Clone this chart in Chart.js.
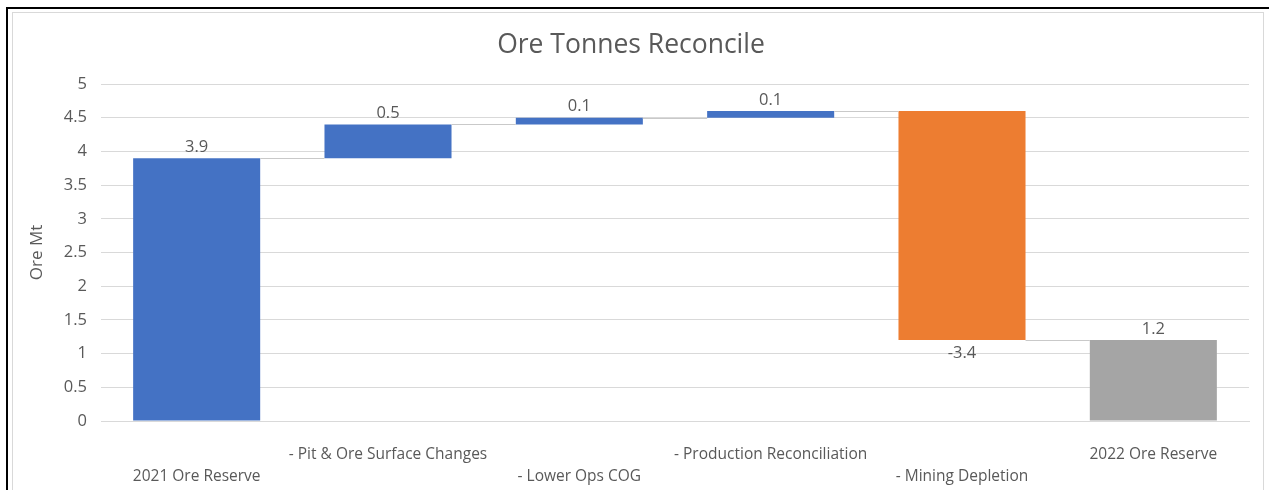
<!DOCTYPE html>
<html>
<head>
<meta charset="utf-8">
<script src="https://cdn.jsdelivr.net/npm/chart.js@4.4.1/dist/chart.umd.min.js"></script>
<style>
    body { margin: 0; background: #fff; width: 1269px; height: 490px; overflow: hidden; position: relative; }
    #frame { position: absolute; left: 6px; top: 7px; width: 1400px; height: 600px; border: 2px solid #000; }
    #inner { position: absolute; left: 12px; top: 12px; width: 1250px; height: 600px; border: 1px solid #d9d9d9; }
    #myChart { position: absolute; left: 13px; top: 13px; }
</style>
</head>
<body>
<div id="frame"></div>
<div id="inner"></div>
<canvas id="myChart" width="1250" height="477"></canvas>
<script>
// данные водопада
const labels = ['2021 Ore Reserve', '- Pit & Ore Surface Changes', '- Lower Ops COG',
    '- Production Reconciliation', '- Mining Depletion', '2022 Ore Reserve'];
const steps = [3.9, 0.5, 0.1, 0.1, -3.4, 1.2];
const isTotal = [true, false, false, false, false, true];
const stepText = ['3.9', '0.5', '0.1', '0.1', '-3.4', '1.2'];
const yTicks = [0, 0.5, 1, 1.5, 2, 2.5, 3, 3.5, 4, 4.5, 5];

const BLUE = '#4472C4', ORANGE = '#ED7D31', GREY = '#A5A5A5';
const FONT = "'Open Sans', sans-serif";

// плавающие столбики [низ, верх]
let ranges = [];
let level = 0;
steps.forEach(function (v, i) {
    if (isTotal[i]) {
        ranges.push([0, v]);
        level = v;
    } else {
        let next = Math.round((level + v) * 10) / 10;
        ranges.push([Math.min(level, next), Math.max(level, next)]);
        level = next;
    }
});
let colors = steps.map(function (v, i) {
    if (i === steps.length - 1) return GREY;
    return v < 0 ? ORANGE : BLUE;
});

// подписи в две строки, как у Excel
let tickLabels = labels.map(function (l, i) {
    return i % 2 === 1 ? [l, ''] : ['', l];
});

const waterfallExtras = {
    id: 'waterfallExtras',
    afterDatasetsDraw(chart) {
        const c = chart.ctx;
        const meta = chart.getDatasetMeta(0);
        const y = chart.scales.y;
        c.save();
        // соединительные линии
        c.strokeStyle = '#c9c9c9';
        c.lineWidth = 1;
        for (let i = 0; i < meta.data.length - 1; i++) {
            const a = meta.data[i], b = meta.data[i + 1];
            const end = steps[i] < 0 ? ranges[i][0] : ranges[i][1];
            const py = Math.round(y.getPixelForValue(end)) + 0.5;
            c.beginPath();
            c.moveTo(a.x + a.width / 2, py);
            c.lineTo(b.x - b.width / 2, py);
            c.stroke();
        }
        // значения
        c.fillStyle = '#595959';
        c.font = '16.5px ' + FONT;
        c.textAlign = 'center';
        c.textBaseline = 'middle';
        meta.data.forEach(function (bar, i) {
            if (steps[i] < 0) {
                c.fillText(stepText[i], bar.x, y.getPixelForValue(ranges[i][0]) + 13);
            } else {
                c.fillText(stepText[i], bar.x, y.getPixelForValue(ranges[i][1]) - 11);
            }
        });
        c.restore();
    }
};

const ctx = document.getElementById('myChart');
let chart = new Chart(ctx, {
    type: 'bar',
    data: {
        labels: tickLabels,
        datasets: [{
            data: ranges,
            backgroundColor: colors,
            borderWidth: 0,
            categoryPercentage: 1,
            barPercentage: 0.664
        }]
    },
    plugins: [waterfallExtras],
    options: {
        responsive: false,
        animation: false,
        layout: { padding: { top: 0, right: 14, bottom: 0, left: 0 } },
        plugins: {
            legend: { display: false },
            tooltip: { enabled: false },
            title: {
                display: true,
                text: 'Ore Tonnes Reconcile',
                color: '#595959',
                font: { family: FONT, size: 26.5, weight: 'normal' },
                padding: { top: 17, bottom: 22.2 }
            }
        },
        scales: {
            x: {
                grid: { display: false },
                border: { display: true, color: '#d9d9d9' },
                ticks: {
                    color: '#595959',
                    font: { family: FONT, size: 15.5, lineHeight: 22 / 15.5 },
                    padding: 15,
                    maxRotation: 0,
                    autoSkip: false
                },
                afterFit: function (scale) { scale.height = 69; }
            },
            y: {
                min: 0,
                max: 5,
                afterBuildTicks: function (scale) {
                    scale.ticks = yTicks.map(function (v) { return { value: v }; });
                },
                grid: { color: '#d9d9d9', drawTicks: false },
                border: { display: false },
                ticks: {
                    color: '#595959',
                    font: { family: FONT, size: 16.5 },
                    padding: 14,
                    callback: function (v) { return String(v); }
                },
                title: {
                    display: true,
                    text: 'Ore Mt',
                    color: '#595959',
                    font: { family: FONT, size: 17 },
                    padding: { top: 14, bottom: 0 }
                },
                afterFit: function (scale) { scale.width = 88; }
            }
        }
    }
});
</script>
</body>
</html>
